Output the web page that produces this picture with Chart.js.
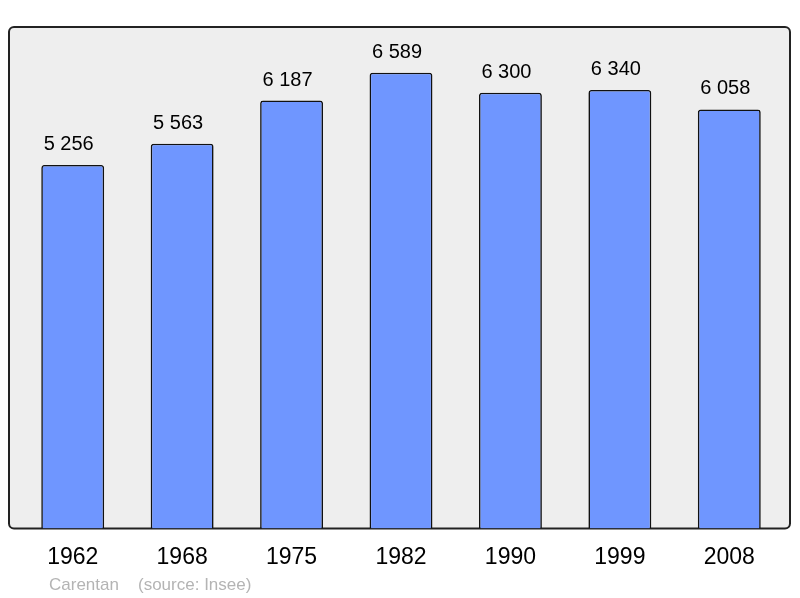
<!DOCTYPE html>
<html>
<head>
<meta charset="utf-8">
<script src="https://cdn.jsdelivr.net/npm/chart.js@4/dist/chart.umd.min.js"></script>
<style>
  html, body { margin: 0; padding: 0; background: #fff; }
  #wrap { width: 800px; height: 598px; }
</style>
</head>
<body>
<div id="wrap"><canvas id="popChart" width="800" height="598"></canvas></div>
<script>
const years = ['1962', '1968', '1975', '1982', '1990', '1999', '2008'];
const population = [5256, 5563, 6187, 6589, 6300, 6340, 6058];
const townName = 'Carentan';
const sourceText = '(source: Insee)';

function formatNum(n) {
  return String(n).replace(/\B(?=(\d{3})+(?!\d))/g, ' ');
}

// fond gris arrondi derrière les barres
const boxPlugin = {
  id: 'box',
  beforeDatasetsDraw(chart) {
    const ctx = chart.ctx;
    const a = chart.chartArea;
    const x = a.left - 9, y = a.top, w = a.right + 6 - x, h = a.bottom - a.top;
    ctx.save();
    ctx.beginPath();
    ctx.roundRect(x, y, w, h, 5);
    ctx.fillStyle = '#eeeeee';
    ctx.fill();
    ctx.lineWidth = 2;
    ctx.strokeStyle = '#222222';
    ctx.stroke();
    ctx.restore();
  }
};

// valeurs au-dessus des barres + pied de page
const labelPlugin = {
  id: 'labels',
  afterDatasetsDraw(chart) {
    const ctx = chart.ctx;
    const meta = chart.getDatasetMeta(0);
    ctx.save();
    ctx.font = '20px "Liberation Sans", Arial, sans-serif';
    ctx.fillStyle = '#000';
    ctx.textAlign = 'center';
    ctx.textBaseline = 'alphabetic';
    meta.data.forEach((bar, i) => {
      ctx.fillText(formatNum(population[i]), bar.x - 4, bar.y - 15);
    });
    ctx.font = '17px "Liberation Sans", Arial, sans-serif';
    ctx.fillStyle = '#b4b4b4';
    ctx.textAlign = 'left';
    ctx.fillText(townName, 49, 590);
    ctx.fillText(sourceText, 138, 590);
    ctx.restore();
  }
};

const ctx = document.getElementById('popChart').getContext('2d');
const popChart = new Chart(ctx, {
  type: 'bar',
  data: {
    labels: years,
    datasets: [
      {
        data: population,
        backgroundColor: '#6f96ff',
        borderColor: '#111111',
        borderWidth: 1.6,
        borderRadius: 3,
        borderSkipped: 'bottom',
        categoryPercentage: 1,
        barPercentage: 0.575
      }
    ]
  },
  options: {
    responsive: false,
    animation: false,
    layout: {
      padding: { left: 18, right: 16, top: 27, bottom: 12 }
    },
    plugins: {
      legend: { display: false },
      tooltip: { enabled: false }
    },
    scales: {
      x: {
        grid: { display: false, drawTicks: false },
        border: { display: false },
        ticks: {
          color: '#000',
          padding: 15,
          font: { size: 23, family: '"Liberation Sans", Arial, sans-serif' }
        }
      },
      y: {
        display: false,
        min: 0,
        max: 7250
      }
    }
  },
  plugins: [boxPlugin, labelPlugin]
});
</script>
</body>
</html>
